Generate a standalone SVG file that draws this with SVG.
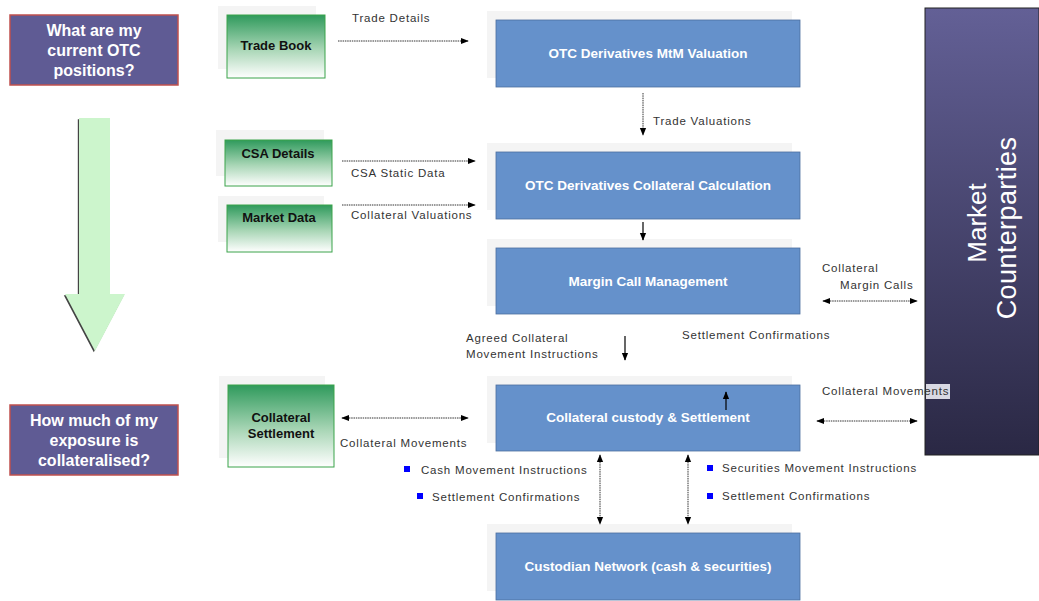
<svg xmlns="http://www.w3.org/2000/svg" width="1039" height="601" viewBox="0 0 1039 601">
<defs>
<linearGradient id="gGreen" x1="0" y1="0" x2="0" y2="1">
<stop offset="0" stop-color="#2f9a5c"/>
<stop offset="0.55" stop-color="#a9d6b6"/>
<stop offset="1" stop-color="#ffffff"/>
</linearGradient>
<linearGradient id="gPurple" x1="0" y1="0" x2="0" y2="1">
<stop offset="0" stop-color="#636096"/>
<stop offset="1" stop-color="#2a2844"/>
</linearGradient>
<marker id="ah" viewBox="0 0 10 10" refX="9" refY="5" markerWidth="8" markerHeight="8" orient="auto-start-reverse" markerUnits="userSpaceOnUse">
<path d="M0,1 L10,5 L0,9 z" fill="#000"/>
</marker>
<style>
.q{fill:#5f5b94;stroke:#c0504d;stroke-width:1.5}
.qt{font-family:"Liberation Sans",Arial,sans-serif;font-weight:bold;font-size:16px;fill:#fff;text-anchor:middle}
.shadow{fill:#f4f4f4}
.g{fill:url(#gGreen);stroke:#3aa34a;stroke-width:1}
.gt{font-family:"Liberation Sans",Arial,sans-serif;font-weight:bold;font-size:13px;fill:#111;text-anchor:middle}
.b{fill:#6591cb;stroke:#4d6e9e;stroke-width:0.8}
.bt{font-family:"Liberation Sans",Arial,sans-serif;font-weight:bold;font-size:13.5px;fill:#fff;text-anchor:middle}
.lbl{font-family:"Liberation Sans",Arial,sans-serif;font-size:11.5px;letter-spacing:0.8px;fill:#333}
.c{fill:none;stroke:#333;stroke-width:1;stroke-dasharray:1.5 0.8}
.cs{fill:none;stroke:#000;stroke-width:1.2}
.bul{fill:#0000ff}
</style>
</defs>

<g id="q-positions">
<rect class="q" x="10" y="15" width="168" height="70"/>
<text class="qt" x="94" y="36">What are my</text>
<text class="qt" x="94" y="56">current OTC</text>
<text class="qt" x="94" y="76">positions?</text>
</g>

<g id="q-exposure">
<rect class="q" x="10" y="405" width="168" height="70"/>
<text class="qt" x="94" y="426">How much of my</text>
<text class="qt" x="94" y="446">exposure is</text>
<text class="qt" x="94" y="466">collateralised?</text>
</g>

<g id="big-arrow">
<polygon points="79,118 110,118 110,294 125,294 95,351 65,294 79,294" fill="#444" transform="translate(-1.2,1.2)"/>
<polygon points="79,118 110,118 110,294 125,294 95,351 65,294 79,294" fill="#ccf5cc"/>
</g>

<g id="trade-book">
<rect class="shadow" x="218" y="6" width="98" height="63"/>
<rect class="g" x="227" y="15" width="98" height="63"/>
<text class="gt" x="276" y="50">Trade Book</text>
</g>

<g id="csa-details">
<rect class="shadow" x="216" y="130" width="108" height="46"/>
<rect class="g" x="225" y="140" width="107" height="46"/>
<text class="gt" x="278" y="158">CSA Details</text>
</g>

<g id="market-data">
<rect class="shadow" x="218" y="196" width="106" height="46"/>
<rect class="g" x="227" y="205" width="105" height="47"/>
<text class="gt" x="279" y="222">Market Data</text>
</g>

<g id="collateral-settlement">
<rect class="shadow" x="219" y="376" width="106" height="82"/>
<rect class="g" x="228" y="385" width="106" height="82"/>
<text class="gt" x="281" y="422">Collateral</text>
<text class="gt" x="281" y="438">Settlement</text>
</g>

<g id="mtm-valuation">
<rect class="shadow" x="487" y="11" width="305" height="67"/>
<rect class="b" x="496" y="20" width="304" height="67"/>
<text class="bt" x="648" y="58">OTC Derivatives MtM Valuation</text>
</g>

<g id="collateral-calc">
<rect class="shadow" x="487" y="143" width="305" height="67"/>
<rect class="b" x="496" y="152" width="304" height="67"/>
<text class="bt" x="648" y="190">OTC Derivatives Collateral Calculation</text>
</g>

<g id="margin-call">
<rect class="shadow" x="487" y="239" width="305" height="67"/>
<rect class="b" x="496" y="248" width="304" height="66"/>
<text class="bt" x="648" y="286">Margin Call Management</text>
</g>

<g id="custody-settlement">
<rect class="shadow" x="487" y="376" width="305" height="67"/>
<rect class="b" x="496" y="385" width="304" height="66"/>
<text class="bt" x="648" y="422">Collateral custody &amp; Settlement</text>
</g>

<g id="custodian-network">
<rect class="shadow" x="487" y="524" width="305" height="67"/>
<rect class="b" x="496" y="533" width="304" height="67"/>
<text class="bt" x="648" y="571">Custodian Network (cash  &amp; securities)</text>
</g>

<g id="market-counterparties">
<rect x="925" y="8" width="114" height="447" fill="url(#gPurple)" stroke="#222" stroke-width="1"/>
<text x="0" y="0" transform="translate(986,223) rotate(-90)" font-family="'Liberation Sans',Arial,sans-serif" font-size="26" fill="#fff" text-anchor="middle">Market</text>
<text x="0" y="0" transform="translate(1016,228) rotate(-90)" font-family="'Liberation Sans',Arial,sans-serif" font-size="27" letter-spacing="0.4" fill="#fff" text-anchor="middle">Counterparties</text>
</g>

<g id="connectors">
<line class="c" x1="338" y1="41" x2="468" y2="41" marker-end="url(#ah)"/>
<text class="lbl" x="352" y="22">Trade Details</text>

<line class="c" x1="643" y1="93" x2="643" y2="135" marker-end="url(#ah)"/>
<text class="lbl" x="653" y="125">Trade Valuations</text>

<line class="c" x1="342" y1="161" x2="475" y2="161" marker-end="url(#ah)"/>
<text class="lbl" x="351" y="177">CSA Static Data</text>

<line class="c" x1="342" y1="205" x2="475" y2="205" marker-end="url(#ah)"/>
<text class="lbl" x="351" y="219">Collateral Valuations</text>

<line class="cs" x1="643" y1="222" x2="643" y2="240" marker-end="url(#ah)"/>

<line class="c" x1="823" y1="301" x2="917" y2="301" marker-start="url(#ah)" marker-end="url(#ah)"/>
<text class="lbl" x="822" y="272">Collateral</text>
<text class="lbl" x="840" y="289">Margin Calls</text>

<text class="lbl" x="466" y="342">Agreed Collateral</text>
<text class="lbl" x="466" y="358">Movement  Instructions</text>
<line class="cs" x1="625" y1="336" x2="625" y2="360" marker-end="url(#ah)"/>

<text class="lbl" x="682" y="339">Settlement Confirmations</text>
<line class="cs" x1="726" y1="410" x2="726" y2="392" marker-end="url(#ah)"/>

<line class="c" x1="342" y1="418" x2="468" y2="418" marker-start="url(#ah)" marker-end="url(#ah)"/>
<text class="lbl" x="340" y="447">Collateral Movements</text>

<line class="c" x1="817" y1="421" x2="917" y2="421" marker-start="url(#ah)" marker-end="url(#ah)"/>
<rect x="926" y="384" width="24" height="15" fill="#d9d9e3"/>
<text class="lbl" x="822" y="395">Collateral Movements</text>

<line class="c" x1="600" y1="455" x2="600" y2="524" marker-start="url(#ah)" marker-end="url(#ah)"/>
<line class="c" x1="688" y1="455" x2="688" y2="524" marker-start="url(#ah)" marker-end="url(#ah)"/>

<rect class="bul" x="404" y="466" width="6" height="6"/>
<text class="lbl" x="421" y="474">Cash Movement Instructions</text>
<rect class="bul" x="417" y="493" width="6" height="6"/>
<text class="lbl" x="432" y="501">Settlement Confirmations</text>
<rect class="bul" x="707" y="465" width="6" height="6"/>
<text class="lbl" x="722" y="472">Securities Movement Instructions</text>
<rect class="bul" x="707" y="493" width="6" height="6"/>
<text class="lbl" x="722" y="500">Settlement Confirmations</text>
</g>
</svg>
